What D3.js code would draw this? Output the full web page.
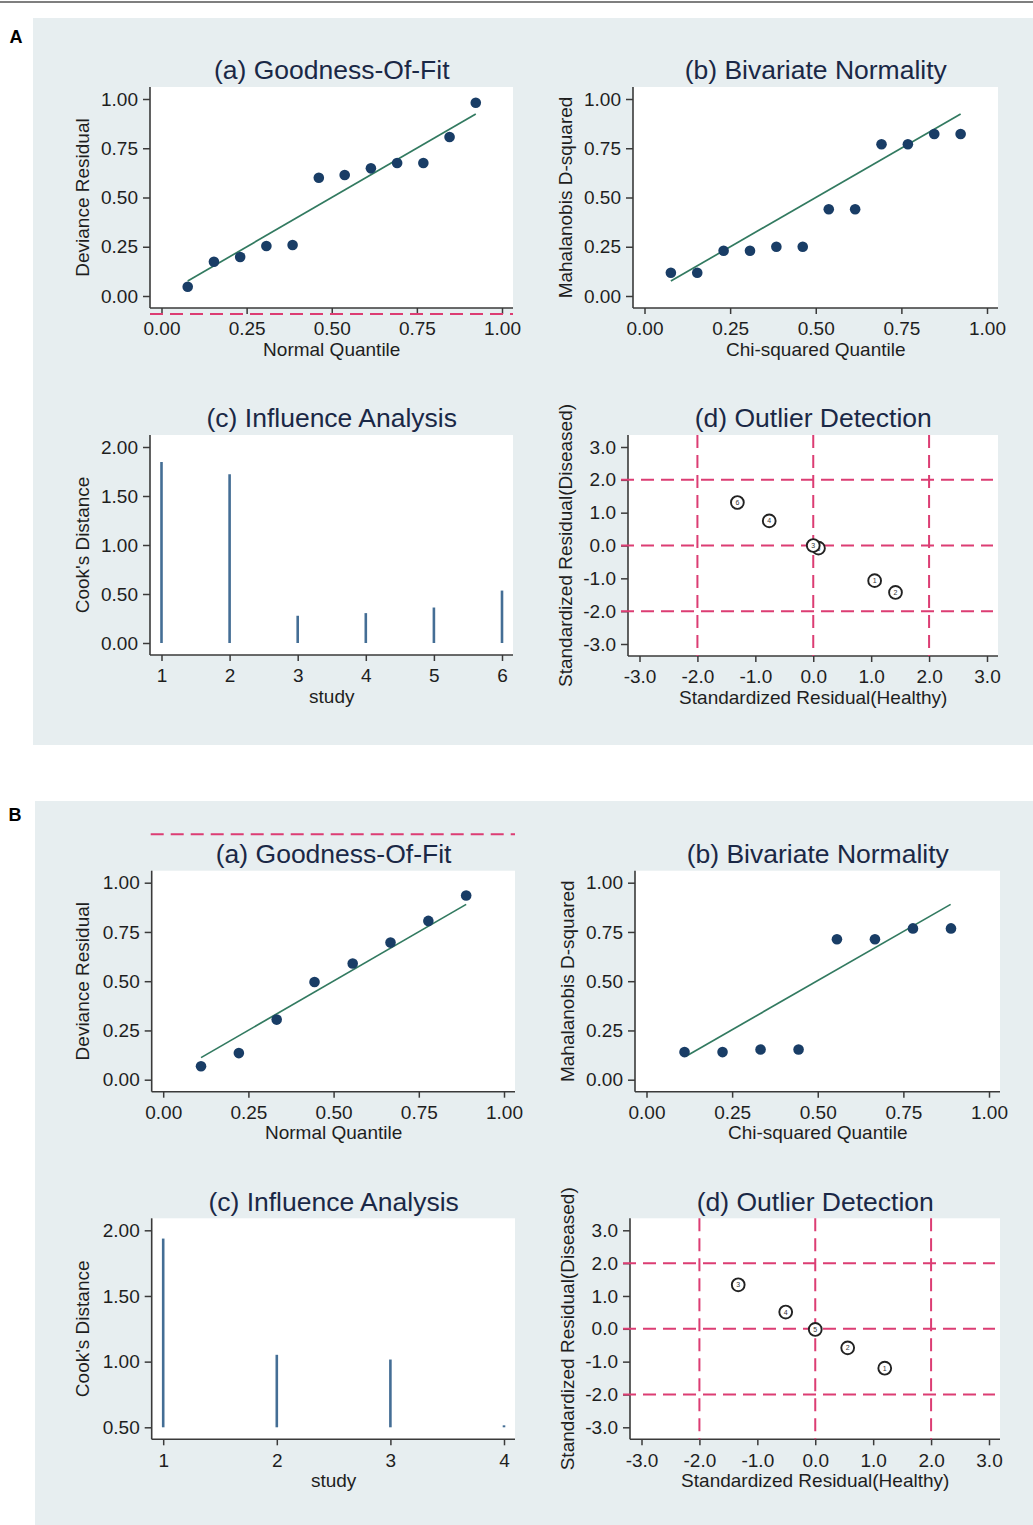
<!DOCTYPE html>
<html><head><meta charset="utf-8">
<script src="https://cdn.jsdelivr.net/npm/d3@7"></script>
<style>
body{margin:0;background:#fff;}
text{font-family:"Liberation Sans",Arial,sans-serif;}
</style></head>
<body><svg id="c" width="1033" height="1525"></svg>
<script>
// ---------------- DATA ----------------
// Figure A
const quantA   = [0.077,0.154,0.231,0.308,0.385,0.462,0.538,0.615,0.692,0.769,0.846,0.923];
const devResA  = [0.047,0.174,0.198,0.254,0.259,0.600,0.614,0.648,0.675,0.675,0.807,0.981];
const fitLineA = [[0.077,0.076],[0.923,0.924]];
const mahalA   = [0.118,0.118,0.230,0.230,0.250,0.250,0.440,0.440,0.770,0.770,0.822,0.822];
const bvnLineA = [[0.077,0.076],[0.923,0.924]];
const studiesA = [1,2,3,4,5,6];
const cooksA   = [1.847,1.722,0.278,0.305,0.362,0.535];
const outLabA  = ["6","4","5","3","1","2"];
const healthyA = [-1.31,-0.76,0.09,0.00,1.06,1.42];
const diseasedA= [1.31,0.75,-0.08,0.00,-1.07,-1.43];
// Figure B
const quantB   = [0.111,0.222,0.333,0.444,0.556,0.667,0.778,0.889];
const devResB  = [0.068,0.135,0.305,0.496,0.590,0.696,0.806,0.935];
const fitLineB = [[0.111,0.112],[0.889,0.890]];
const mahalB   = [0.140,0.140,0.153,0.153,0.713,0.713,0.768,0.768];
const bvnLineB = [[0.114,0.118],[0.888,0.890]];
const studiesB = [1,2,3,4];
const cooksB   = [1.937,1.052,1.016,0.515];
const outLabB  = ["3","4","5","2","1"];
const healthyB = [-1.33,-0.51,0.00,0.56,1.20];
const diseasedB= [1.34,0.51,-0.02,-0.58,-1.20];
// ticks / reference values
const unitTicks  = [0,0.25,0.5,0.75,1];
const cookTicksA = [0,0.5,1,1.5,2];
const cookTicksB = [0.5,1,1.5,2];
const stdTicks   = [-3,-2,-1,0,1,2,3];
const refLines   = [-2,0,2];
const titles = ["(a) Goodness-Of-Fit","(b) Bivariate Normality","(c) Influence Analysis","(d) Outlier Detection"];

// ---------------- STYLE ----------------
const BG="#e7eef0", AX="#3a3a3a", TXT="#1e1e1e", TITLE="#1a2846",
      DOT="#193d66", FIT="#327a60", SPIKE="#446e95", RED="#dc3d73";
const FS="19px";
const fmt = s => d => d3.format(s)(d).replace("\u2212","-");

const svg = d3.select("#c");
svg.append("line").attr("x1",0).attr("x2",1033).attr("y1",2).attr("y2",2)
  .attr("stroke","#555").attr("stroke-width",1.5);

function panel(g, o){
  const r=o.rect;
  g.append("rect").attr("x",r.x0).attr("y",r.y0).attr("width",r.x1-r.x0).attr("height",r.y1-r.y0).attr("fill","#fff");
  const x=d3.scaleLinear().domain(o.xDom).range([r.x0+11.5,r.x1-11]);
  const y=d3.scaleLinear().domain(o.yDom).range([r.y1-12,r.y0+12]);
  const ya=g.append("g").attr("transform",`translate(${r.x0},0)`)
    .call(d3.axisLeft(y).tickValues(o.yTicks).tickFormat(fmt(o.yFmt)).tickSize(7).tickPadding(5));
  const xa=g.append("g").attr("transform",`translate(0,${r.y1})`)
    .call(d3.axisBottom(x).tickValues(o.xTicks).tickFormat(fmt(o.xFmt)).tickSize(6).tickPadding(8));
  [ya,xa].forEach(a=>{
    a.select(".domain").remove();
    a.selectAll(".tick line").attr("stroke",AX).attr("stroke-width",1.5);
    a.selectAll(".tick text").attr("fill",TXT).style("font-size",FS);
  });
  g.append("line").attr("x1",r.x0).attr("x2",r.x0).attr("y1",r.y0).attr("y2",r.y1).attr("stroke",AX).attr("stroke-width",1.6);
  g.append("line").attr("x1",r.x0).attr("x2",r.x1).attr("y1",r.y1).attr("y2",r.y1).attr("stroke",AX).attr("stroke-width",1.6);
  const cx=(x.range()[0]+x.range()[1])/2, cy=(y.range()[0]+y.range()[1])/2;
  g.append("text").attr("x",cx).attr("y",r.y0-17).attr("dy","0.35em").attr("text-anchor","middle")
    .attr("fill",TITLE).style("font-size","26.5px").text(o.title);
  g.append("text").attr("x",cx).attr("y",r.y1+41).attr("dy","0.35em").attr("text-anchor","middle")
    .attr("fill",TXT).style("font-size",FS).text(o.xTitle);
  g.append("text").attr("transform",`translate(${o.yTitleX},${cy}) rotate(-90)`).attr("dy","0.35em")
    .attr("text-anchor","middle").attr("fill",TXT).style("font-size",FS).text(o.yTitle);
  return {x,y};
}

function scatterPanel(g,o,xs,ys,line){
  const {x,y}=panel(g,o);
  g.append("line").attr("x1",x(line[0][0])).attr("y1",y(line[0][1])).attr("x2",x(line[1][0])).attr("y2",y(line[1][1]))
    .attr("stroke",FIT).attr("stroke-width",1.7);
  g.selectAll("circle.pt").data(xs.map((d,i)=>[d,ys[i]])).join("circle").attr("class","pt")
    .attr("cx",d=>x(d[0])).attr("cy",d=>y(d[1])).attr("r",5.3).attr("fill",DOT);
}

function spikePanel(g,o,studies,vals,base){
  const {x,y}=panel(g,o);
  g.selectAll("line.sp").data(studies.map((s,i)=>[s,vals[i]])).join("line").attr("class","sp")
    .attr("x1",d=>x(d[0])).attr("x2",d=>x(d[0])).attr("y1",y(base)).attr("y2",d=>y(d[1]))
    .attr("stroke",SPIKE).attr("stroke-width",2.6);
}

function outlierPanel(g,o,hx,dy,labs){
  const {x,y}=panel(g,o);
  const r=o.rect;
  refLines.forEach(v=>{
    g.append("line").attr("x1",x(v)).attr("x2",x(v)).attr("y1",r.y0).attr("y2",r.y1)
      .attr("stroke",RED).attr("stroke-width",2).attr("stroke-dasharray","13,7");
    g.append("line").attr("x1",r.x0-7).attr("x2",r.x1-5).attr("y1",y(v)).attr("y2",y(v))
      .attr("stroke",RED).attr("stroke-width",2).attr("stroke-dasharray","13,7");
  });
  const pts=hx.map((d,i)=>({h:d,d:dy[i],l:labs[i]}));
  const pg=g.selectAll("g.op").data(pts).join("g").attr("class","op")
    .attr("transform",d=>`translate(${x(d.h)},${y(d.d)})`);
  pg.append("circle").attr("r",6.4).attr("fill","#fff").attr("stroke","#222").attr("stroke-width",1.9);
  pg.append("text").attr("text-anchor","middle").attr("dy","0.35em").attr("fill","#333")
    .style("font-size","7px").text(d=>d.l);
}

function figure(spec){
  const g=svg.append("g");
  g.append("rect").attr("x",spec.bg[0]).attr("y",spec.bg[1]).attr("width",spec.bg[2]).attr("height",spec.bg[3]).attr("fill",BG);
  g.append("text").attr("x",spec.lab[0]).attr("y",spec.lab[1]).attr("text-anchor","middle").attr("fill","#000")
    .style("font-size","18px").style("font-weight","bold").text(spec.label);
  const P=spec.panels;
  scatterPanel(g.append("g"),{rect:P[0],xDom:[0,1],yDom:[0,1],xTicks:unitTicks,yTicks:unitTicks,xFmt:".2f",yFmt:".2f",
    title:titles[0],xTitle:"Normal Quantile",yTitle:"Deviance Residual",yTitleX:spec.ytx[0]},spec.q,spec.dev,spec.fit);
  scatterPanel(g.append("g"),{rect:P[1],xDom:[0,1],yDom:[0,1],xTicks:unitTicks,yTicks:unitTicks,xFmt:".2f",yFmt:".2f",
    title:titles[1],xTitle:"Chi-squared Quantile",yTitle:"Mahalanobis D-squared",yTitleX:spec.ytx[1]},spec.q,spec.mah,spec.bvn);
  spikePanel(g.append("g"),{rect:P[2],xDom:[spec.st[0],spec.st[spec.st.length-1]],yDom:[spec.ct[0],2],xTicks:spec.st,yTicks:spec.ct,
    xFmt:"d",yFmt:".2f",title:titles[2],xTitle:"study",yTitle:"Cook's Distance",yTitleX:spec.ytx[0]},spec.st,spec.cook,spec.ct[0]);
  outlierPanel(g.append("g"),{rect:P[3],xDom:[-3,3],yDom:[-3,3],xTicks:stdTicks,yTicks:stdTicks,xFmt:".1f",yFmt:".1f",
    title:titles[3],xTitle:"Standardized Residual(Healthy)",yTitle:"Standardized Residual(Diseased)",yTitleX:spec.ytx[1]},
    spec.hx,spec.dy,spec.labs);
  g.append("line").attr("x1",spec.stray[0]).attr("x2",spec.stray[1]).attr("y1",spec.stray[2]).attr("y2",spec.stray[2])
    .attr("stroke",RED).attr("stroke-width",2).attr("stroke-dasharray","13,7");
}

figure({label:"A",lab:[16,43],bg:[33,18,1000,727],ytx:[82,565],
  panels:[{x0:150,x1:513,y0:87,y1:308},{x0:633,x1:998,y0:87,y1:308},{x0:150,x1:513,y0:435,y1:655},{x0:628,x1:998,y0:435,y1:656}],
  q:quantA,dev:devResA,fit:fitLineA,mah:mahalA,bvn:bvnLineA,st:studiesA,cook:cooksA,ct:cookTicksA,
  hx:healthyA,dy:diseasedA,labs:outLabA,stray:[150,513,314]});
figure({label:"B",lab:[15,821],bg:[35,801,998,724],ytx:[82,567],
  panels:[{x0:151.7,x1:515,y0:870.7,y1:1091.7},{x0:635,x1:1000,y0:870.7,y1:1091.7},{x0:151.7,x1:515,y0:1218.3,y1:1439.3},{x0:630,x1:1000,y0:1218.3,y1:1439.3}],
  q:quantB,dev:devResB,fit:fitLineB,mah:mahalB,bvn:bvnLineB,st:studiesB,cook:cooksB,ct:cookTicksB,
  hx:healthyB,dy:diseasedB,labs:outLabB,stray:[150.7,515,834.3]});
</script></body></html>
